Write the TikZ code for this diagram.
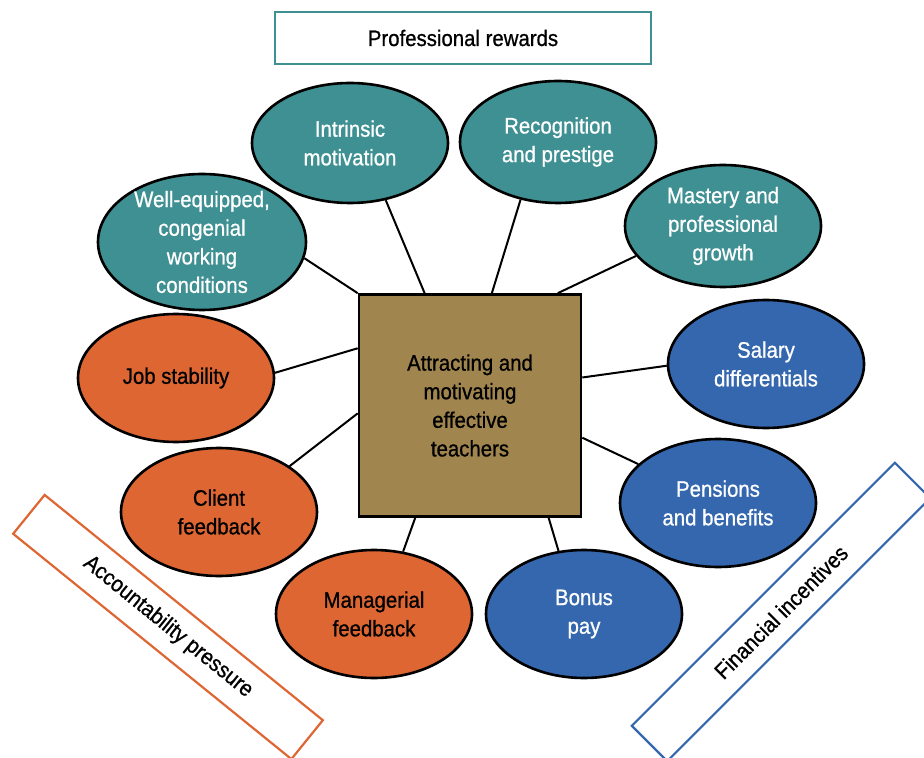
\documentclass[tikz,border=0pt]{standalone}
\usepackage{fontspec}
\setmainfont[FakeStretch=0.91, FakeBold=0.8]{Liberation Sans}
\usetikzlibrary{shapes.geometric}

\definecolor{tealfill}{HTML}{3F9093}
\definecolor{orangefill}{HTML}{DD6633}
\definecolor{bluefill}{HTML}{3467AE}
\definecolor{brownfill}{HTML}{A1854F}

\begin{document}
\begin{tikzpicture}[x=0.5pt, y=-0.5pt]
        \tikzstyle{every node}=[font=\fontsize{11.2}{14.3}\selectfont, align=center]
        \tikzstyle{bubble}=[draw, ellipse, line width=1.3pt, inner sep=0pt, minimum width=98pt, minimum height=64pt]
        \tikzstyle{reward}=[bubble, fill=tealfill]
        \tikzstyle{account}=[bubble, fill=orangefill]
        \tikzstyle{money}=[bubble, fill=bluefill]
        \tikzstyle{light}=[text=white]
        \tikzstyle{banner}=[draw, fill=white, line width=1.1pt, minimum height=25pt]
        \tikzstyle{link}=[line width=1pt]

        \useasboundingbox (0,0) rectangle (924,758);
        \clip (0,0) rectangle (924,758);

        % centre
        \node[draw, line width=1.3pt, fill=brownfill, minimum size=111pt] (centre) at (470,405.5)
            {Attracting and\\motivating\\effective\\teachers};

        % professional rewards
        \node[banner, draw=tealfill, line width=1.3pt, minimum width=188pt, minimum height=26pt] (rewards) at (463,38) {Professional rewards};
        \node[reward, minimum height=60pt] (intrinsic)   at (350,143) [label={[light]center:Intrinsic\\motivation}] {};
        \node[reward, minimum height=61pt] (recognition) at (558,142) [label={[light]center:Recognition\\and prestige}] {};
        \node[reward, minimum height=61pt] (mastery)     at (723,226) [label={[light]center:Mastery and\\professional\\growth}] {};
        \node[reward, minimum width=104pt, minimum height=68pt] (equipped) at (202,242)
            [label={[light]center:Well-equipped,\\congenial\\working\\conditions}] {};

        % accountability pressure
        \node[banner, draw=orangefill, minimum width=179pt, rotate=-39] (pressure) at (168,627) {Accountability pressure};
        \node[account] (stability)  at (176,378) [label=center:Job stability] {};
        \node[account] (client)     at (219,512) [label=center:Client\\feedback] {};
        \node[account] (managerial) at (374,614) [label=center:Managerial\\feedback] {};

        % financial incentives
        \node[banner, draw=bluefill, minimum width=186pt, rotate=45] (financial) at (781,612) {Financial incentives};
        \node[money] (bonus)    at (584,614) [label={[light]center:Bonus\\pay}] {};
        \node[money] (pensions) at (718,503) [label={[light]center:Pensions\\and benefits}] {};
        \node[money] (salary)   at (766,364) [label={[light]center:Salary\\differentials}] {};

        \draw[link] (intrinsic.-58)    -- (centre.112);
        \draw[link] (recognition.-123) -- (centre.79);
        \draw[link] (mastery.199)      -- (centre.52);
        \draw[link] (equipped.-9)      -- (centre.135);
        \draw[link] (stability.3)      -- (centre.153);
        \draw[link] (client.33)        -- (centre.184);
        \draw[link] (managerial.65)    -- (centre.244);
        \draw[link] (bonus.112)        -- (centre.305);
        \draw[link] (pensions.154)     -- (centre.-16);
        \draw[link] (salary.181)       -- (centre.14);

    \end{tikzpicture}
\end{document}
